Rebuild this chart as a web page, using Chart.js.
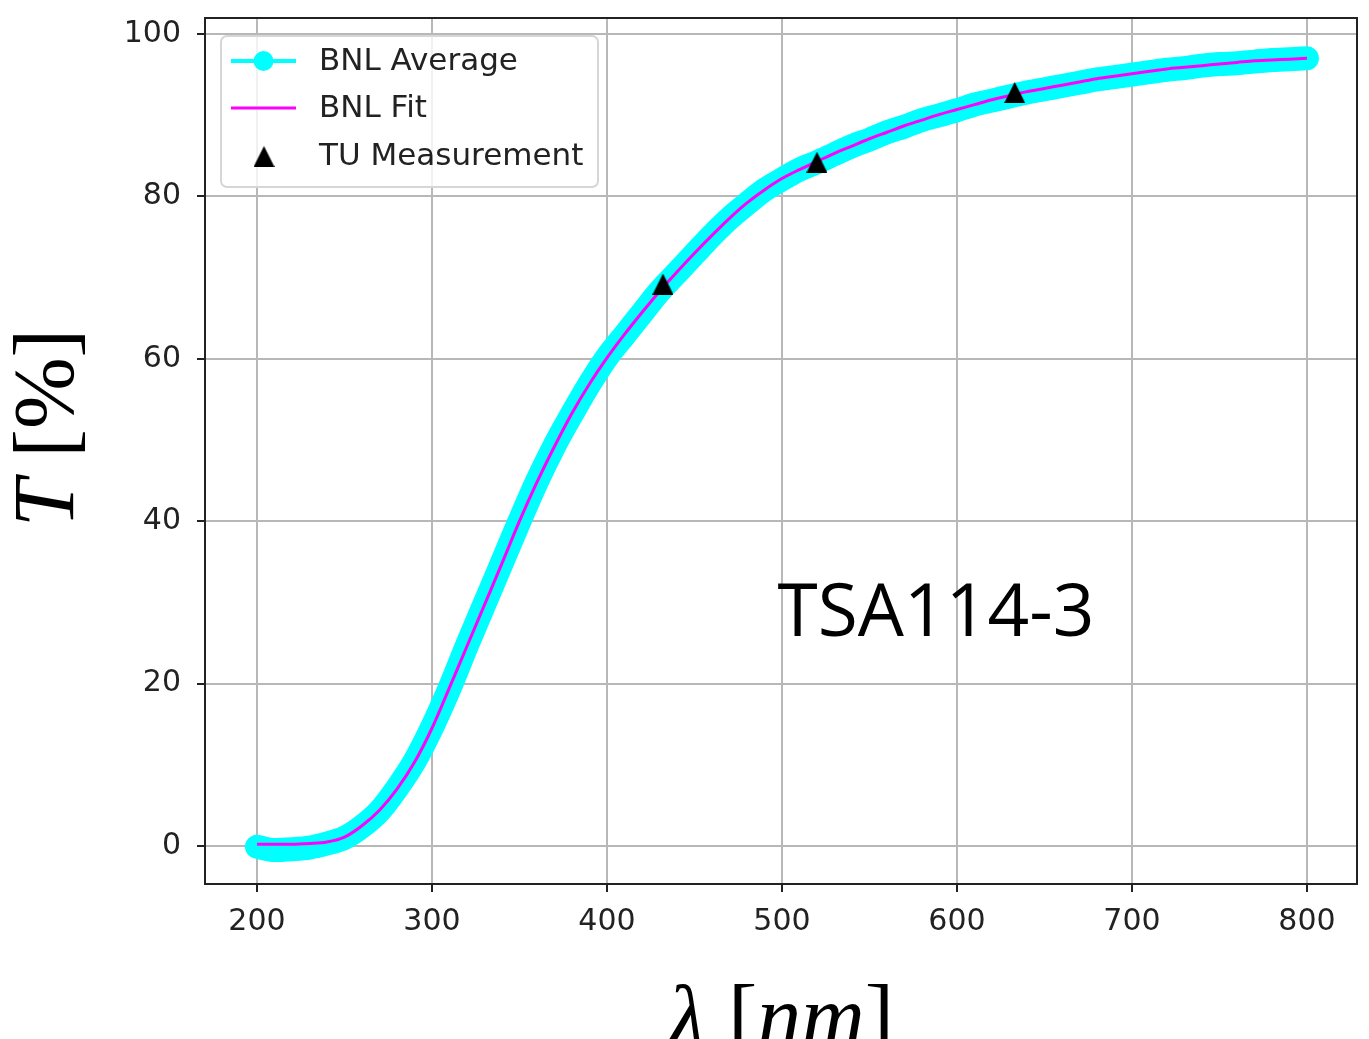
<!DOCTYPE html>
<html>
<head>
<meta charset="utf-8">
<title>TSA114-3 transmission</title>
<script src="https://cdn.jsdelivr.net/npm/chart.js@4.4.1/dist/chart.umd.min.js"></script>
<style>
  html, body { margin: 0; padding: 0; background: #fff; overflow: hidden; }
  #wrap { width: 1369px; height: 1039px; }
</style>
</head>
<body>
<div id="wrap"><canvas id="transChart"></canvas></div>
<script>
// BNL scan wavelengths (nm)
const wavelengths = [200, 210, 220, 230, 240, 250, 260, 270, 280, 290,
    300, 310, 320, 330, 340, 350, 360, 370, 380, 390,
    400, 410, 420, 430, 440, 450, 460, 470, 480, 490,
    500, 510, 520, 530, 540, 550, 560, 570, 580, 590,
    600, 610, 620, 630, 640, 650, 660, 670, 680, 690,
    700, 710, 720, 730, 740, 750, 760, 770, 780, 790, 800];

// BNL averaged transmission (%)
const bnlAverage = [-0.1, -0.5, -0.4, -0.2, 0.3, 1.0, 2.4, 4.3, 7.1, 10.4,
    14.6, 19.4, 24.7, 29.8, 34.9, 40.0, 44.9, 49.3, 53.2, 56.9,
    60.2, 62.9, 65.6, 68.3, 70.6, 72.9, 75.2, 77.3, 79.1, 80.8,
    82.1, 83.3, 84.2, 85.2, 86.2, 87.0, 87.9, 88.6, 89.4, 90.0,
    90.6, 91.3, 91.8, 92.3, 92.8, 93.2, 93.6, 94.0, 94.4, 94.7,
    95.0, 95.3, 95.6, 95.8, 96.1, 96.3, 96.4, 96.6, 96.8, 96.9, 97.0];

// BNL fit (%)
const bnlFit = [0.2, 0.2, 0.2, 0.3, 0.5, 1.1, 2.5, 4.4, 7.0, 10.3,
    14.5, 19.5, 24.6, 29.7, 34.8, 40.0, 44.8, 49.2, 53.3, 56.9,
    60.1, 63.0, 65.7, 68.3, 70.7, 73.0, 75.2, 77.3, 79.2, 80.8,
    82.2, 83.3, 84.3, 85.3, 86.2, 87.1, 87.9, 88.7, 89.4, 90.1,
    90.7, 91.3, 91.9, 92.4, 92.9, 93.3, 93.7, 94.1, 94.5, 94.8,
    95.1, 95.4, 95.7, 95.9, 96.1, 96.3, 96.5, 96.7, 96.8, 96.9, 97.0];

// TU single measurements
const tuWavelengths = [432, 520, 633];
const tuValues = [69.2, 84.2, 92.8];

const xTicks = [200, 300, 400, 500, 600, 700, 800];
const yTicks = [0, 20, 40, 60, 80, 100];
const sampleName = 'TSA114-3';

const CYAN = '#00ffff';
const MAGENTA = '#ff00ff';
const INK = '#222222';

// matplotlib style "^" marker as an image
function makeTriangle(size) {
    const c = document.createElement('canvas');
    c.width = size;
    c.height = size;
    const g = c.getContext('2d');
    g.fillStyle = '#000';
    g.beginPath();
    g.moveTo(size / 2, 0);
    g.lineTo(size, size);
    g.lineTo(0, size);
    g.closePath();
    g.fill();
    return c;
}
const triangleImg = makeTriangle(21);

function drawRuns(ctx, runs, x, y, align) {
    let total = 0;
    runs.forEach(r => { ctx.font = r[0]; total += ctx.measureText(r[1]).width; });
    let cx = align === 'center' ? x - total / 2 : x;
    ctx.textAlign = 'left';
    runs.forEach(r => {
        ctx.font = r[0];
        ctx.fillText(r[1], cx, y);
        cx += ctx.measureText(r[1]).width;
    });
}

//Frame, legend, sample name and axis titles
const decorations = {
    id: 'decorations',
    afterDraw(chart) {
        const { ctx, chartArea: a, scales } = chart;
        ctx.save();

        ctx.strokeStyle = INK;
        ctx.lineWidth = 2;
        ctx.strokeRect(a.left, a.top, a.right - a.left, a.bottom - a.top);

        // sample label
        ctx.fillStyle = '#000';
        ctx.textBaseline = 'alphabetic';
        ctx.textAlign = 'left';
        ctx.font = '73px "Open Sans"';
        ctx.fillText(sampleName, scales.x.getPixelForValue(497.5), scales.y.getPixelForValue(25.9));

        // legend box
        const lx = a.left + 16, ly = a.top + 18, lw = 377, lh = 151;
        ctx.beginPath();
        ctx.roundRect(lx, ly, lw, lh, 6);
        ctx.fillStyle = 'rgba(255,255,255,0.8)';
        ctx.fill();
        ctx.strokeStyle = '#d6d6d6';
        ctx.lineWidth = 2;
        ctx.stroke();

        const hx0 = lx + 10, hx1 = lx + 75, hxc = (hx0 + hx1) / 2;
        const rows = [ly + 25, ly + 72, ly + 120];

        ctx.strokeStyle = CYAN;
        ctx.lineWidth = 4;
        ctx.beginPath(); ctx.moveTo(hx0, rows[0]); ctx.lineTo(hx1, rows[0]); ctx.stroke();
        ctx.fillStyle = CYAN;
        ctx.beginPath(); ctx.arc(hxc, rows[0], 10, 0, Math.PI * 2); ctx.fill();

        ctx.strokeStyle = MAGENTA;
        ctx.lineWidth = 3;
        ctx.beginPath(); ctx.moveTo(hx0, rows[1]); ctx.lineTo(hx1, rows[1]); ctx.stroke();

        ctx.drawImage(triangleImg, hxc - 10, rows[2] - 10);

        ctx.fillStyle = INK;
        ctx.font = '31px "DejaVu Sans"';
        ctx.fillText('BNL Average', lx + 98, ly + 34);
        ctx.fillText('BNL Fit', lx + 98, ly + 81);
        ctx.fillText('TU Measurement', lx + 98, ly + 129);

        // axis titles
        ctx.fillStyle = '#000';
        const serif = '"Liberation Serif", "DejaVu Serif", serif';
        drawRuns(ctx, [['italic 88px ' + serif, 'λ'], ['88px ' + serif, ' ['],
            ['italic 88px ' + serif, 'nm'], ['88px ' + serif, ']']],
            (a.left + a.right) / 2, 1046, 'center');

        ctx.translate(73, 527);
        ctx.rotate(-Math.PI / 2);
        drawRuns(ctx, [['italic 86px ' + serif, 'T'], ['86px ' + serif, ' [%]']], 0, 0, 'left');

        ctx.restore();
    }
};

const gridStyle = {
    color: '#b8b8b8',
    lineWidth: 2,
    tickLength: 8,
    tickColor: INK,
    tickWidth: 2
};
const tickFont = { family: 'DejaVu Sans', size: 30 };

function fixBox(s, w, h) {
    if (w) s.width = w;
    if (h) s.height = h;
    s.paddingTop = 0;
    s.paddingBottom = 0;
    s.paddingLeft = 0;
    s.paddingRight = 0;
}

const chartCtx = document.getElementById('transChart').getContext('2d');
let transChart = new Chart(chartCtx, {
    type: 'line',
    data: {
        datasets: [{
            label: 'TU Measurement',
            data: tuWavelengths.map((x, i) => ({ x: x, y: tuValues[i] })),
            showLine: false,
            pointStyle: triangleImg,
            pointRadius: 10,
            order: 0
        }, {
            label: 'BNL Fit',
            data: wavelengths.map((x, i) => ({ x: x, y: bnlFit[i] })),
            borderColor: MAGENTA,
            borderWidth: 3,
            pointRadius: 0,
            cubicInterpolationMode: 'monotone',
            order: 1
        }, {
            label: 'BNL Average',
            data: wavelengths.map((x, i) => ({ x: x, y: bnlAverage[i] })),
            borderColor: CYAN,
            borderWidth: 24,
            borderCapStyle: 'round',
            borderJoinStyle: 'round',
            pointRadius: 0,
            cubicInterpolationMode: 'monotone',
            order: 2
        }]
    },
    options: {
        responsive: true,
        maintainAspectRatio: false,
        animation: false,
        layout: { padding: { top: 18, right: 12, left: 0, bottom: 0 } },
        plugins: {
            legend: { display: false },
            tooltip: { enabled: false }
        },
        scales: {
            x: {
                type: 'linear',
                min: 170.3,
                max: 828.6,
                afterBuildTicks: s => { s.ticks = xTicks.map(v => ({ value: v })); },
                afterFit: s => fixBox(s, 0, 155),
                grid: gridStyle,
                border: { display: false },
                ticks: { font: tickFont, color: INK, padding: 12, maxRotation: 0 }
            },
            y: {
                type: 'linear',
                min: -4.68,
                max: 101.97,
                afterBuildTicks: s => { s.ticks = yTicks.map(v => ({ value: v })); },
                afterFit: s => fixBox(s, 205, 0),
                grid: gridStyle,
                border: { display: false },
                ticks: { font: tickFont, color: INK, padding: 16 }
            }
        }
    },
    plugins: [decorations]
});
</script>
</body>
</html>
